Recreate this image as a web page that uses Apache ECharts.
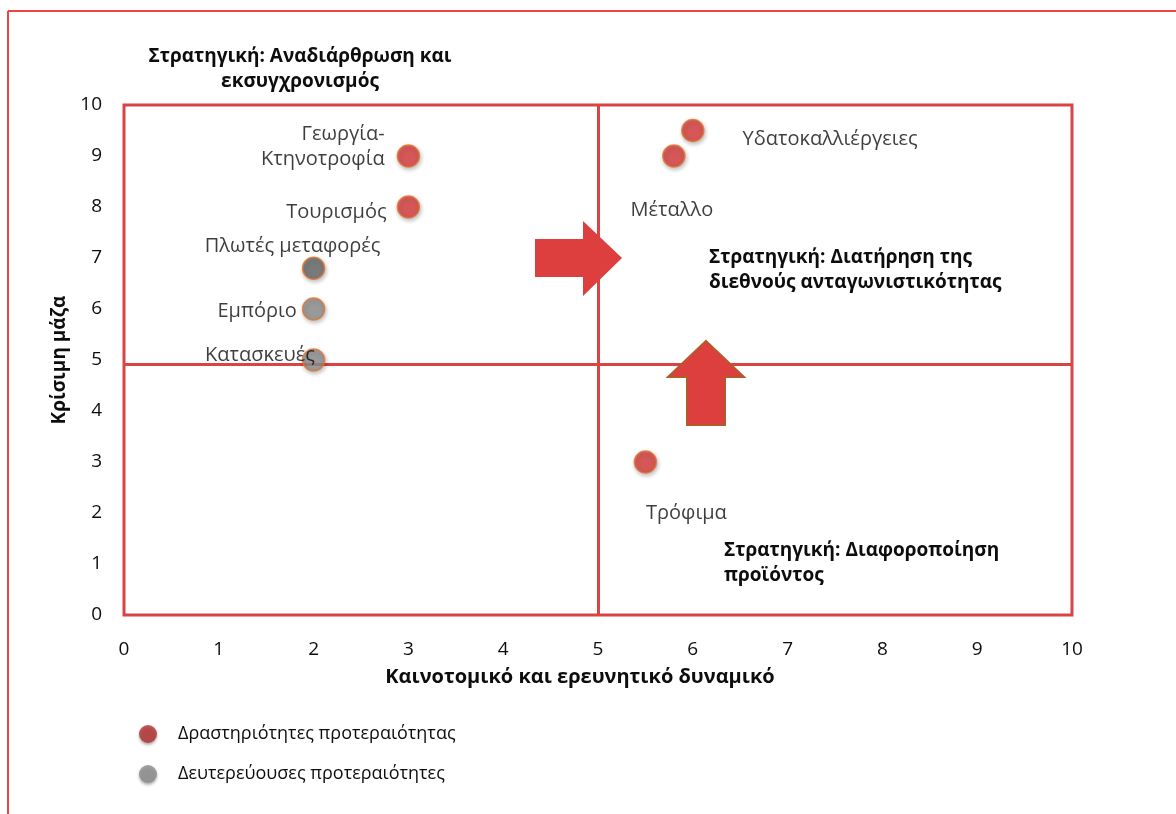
<!DOCTYPE html>
<html>
<head>
<meta charset="utf-8">
<script src="https://cdn.jsdelivr.net/npm/echarts@6/dist/echarts.min.js"></script>
<style>
  html, body { margin: 0; padding: 0; background: #fff; }
  #chart { width: 1176px; height: 814px; }
</style>
</head>
<body>
<div id="chart"></div>
<script>
// sectors, x = innovation potential, y = critical mass
var sectors = ['Γεωργία-\nΚτηνοτροφία', 'Τουρισμός', 'Υδατοκαλλιέργειες', 'Μέταλλο', 'Τρόφιμα',
               'Πλωτές μεταφορές', 'Εμπόριο', 'Κατασκευές'];
var innovation = [3, 3, 6, 5.8, 5.5, 2, 2, 2];
var criticalMass = [9, 8, 9.5, 9, 3, 6.8, 6, 5];
var isPriority = [true, true, true, true, true, false, false, false];
var xTicks = [0, 1, 2, 3, 4, 5, 6, 7, 8, 9, 10];
var yTicks = [0, 1, 2, 3, 4, 5, 6, 7, 8, 9, 10];
var quadrantX = 5;
var quadrantY = 4.92;
var seriesNames = ['Δραστηριότητες προτεραιότητας', 'Δευτερεύουσες προτεραιότητες'];

// where each label sits relative to its dot
var labelPlace = {
    'Γεωργία-\nΚτηνοτροφία': { position: 'left', offset: [-7, -9] },
    'Τουρισμός': { position: 'left', offset: [-5, 5] },
    'Υδατοκαλλιέργειες': { position: 'right', offset: [33, 9] },
    'Μέταλλο': { position: 'bottom', offset: [-2, 25] },
    'Τρόφιμα': { position: 'bottom', offset: [41, 22] },
    'Πλωτές μεταφορές': { position: 'top', offset: [-21, 7] },
    'Εμπόριο': { position: 'left', offset: [0, 2] },
    'Κατασκευές': { position: 'left', offset: [18, -5] }
};

var RED = '#d93c3c';
var GREY = '#8f8f8f';
var TXT = '#0d0d0d';
var FONT = '"Open Sans", "DejaVu Sans", sans-serif';

function buildPoints(wantPriority) {
    var out = [];
    for (var i = 0; i < sectors.length; i++) {
        if (isPriority[i] !== wantPriority) continue;
        var p = labelPlace[sectors[i]];
        var item = {
            name: sectors[i],
            value: [innovation[i], criticalMass[i]],
            label: { position: p.position, offset: p.offset }
        };
        if (sectors[i] === 'Πλωτές μεταφορές') {
            item.itemStyle = { color: '#676767' };
        }
        out.push(item);
    }
    return out;
}

var pointStyle = function (c) {
    return {
        color: c,
        borderColor: '#e2742e',
        borderWidth: 1.5,
        shadowColor: 'rgba(0,0,0,0.3)',
        shadowBlur: 4,
        shadowOffsetX: 1,
        shadowOffsetY: 2
    };
};

var pointLabel = {
    show: true,
    formatter: '{b}',
    fontFamily: FONT,
    fontSize: 20,
    fontWeight: 500,
    color: TXT,
    lineHeight: 25
};

var chart = echarts.init(document.getElementById('chart'));

var option = {
    animation: false,
    backgroundColor: '#fff',
    grid: {
        left: 124, right: 104, top: 105, bottom: 199,
        show: true,
        borderColor: '#d94545',
        borderWidth: 3,
        backgroundColor: 'transparent'
    },
    xAxis: {
        type: 'value',
        min: xTicks[0], max: xTicks[xTicks.length - 1], interval: 1,
        name: 'Καινοτομικό και ερευνητικό δυναμικό',
        nameLocation: 'middle',
        nameGap: 52,
        nameTextStyle: { fontFamily: FONT, fontSize: 20, fontWeight: 'bold', color: TXT, padding: [0, 36, 0, 0] },
        axisLine: { show: false },
        axisTick: { show: false },
        splitLine: { show: false },
        axisLabel: { fontFamily: FONT, fontSize: 19, fontWeight: 500, color: TXT, margin: 25 }
    },
    yAxis: {
        type: 'value',
        min: yTicks[0], max: yTicks[yTicks.length - 1], interval: 1,
        name: 'Κρίσιμη μάζα',
        nameLocation: 'middle',
        nameGap: 54,
        nameTextStyle: { fontFamily: FONT, fontSize: 19, fontWeight: 'bold', color: TXT },
        axisLine: { show: false },
        axisTick: { show: false },
        splitLine: { show: false },
        axisLabel: { fontFamily: FONT, fontSize: 19, fontWeight: 500, color: TXT, margin: 22 }
    },
    legend: {
        orient: 'vertical',
        left: 134,
        top: 720,
        itemWidth: 18,
        itemHeight: 18,
        itemGap: 22,
        icon: 'circle',
        textStyle: { fontFamily: FONT, fontSize: 18, color: TXT, padding: [0, 0, 0, 16] },
        data: [
            { name: seriesNames[0], itemStyle: { color: '#b3302e', shadowColor: 'rgba(0,0,0,0.4)', shadowBlur: 3, shadowOffsetY: 2, borderWidth: 0 } },
            { name: seriesNames[1], itemStyle: { color: '#8c8c8c', shadowColor: 'rgba(0,0,0,0.4)', shadowBlur: 3, shadowOffsetY: 2, borderWidth: 0 } }
        ]
    },
    series: [
        {
            name: seriesNames[0],
            type: 'scatter',
            symbolSize: 22,
            itemStyle: pointStyle(RED),
            label: pointLabel,
            data: buildPoints(true),
            z: 5,
            markLine: {
                silent: true,
                symbol: 'none',
                label: { show: false },
                lineStyle: { color: '#d94545', width: 3, type: 'solid' },
                data: [{ xAxis: quadrantX }, { yAxis: quadrantY }],
                z: 1
            }
        },
        {
            name: seriesNames[1],
            type: 'scatter',
            symbolSize: 22,
            itemStyle: pointStyle(GREY),
            label: pointLabel,
            data: buildPoints(false),
            z: 5
        }
    ],
    graphic: [
        // page frame edges
        { type: 'line', shape: { x1: 8, y1: 11, x2: 1176, y2: 11 }, style: { stroke: '#f04343', lineWidth: 2 }, silent: true },
        { type: 'line', shape: { x1: 8, y1: 11, x2: 8, y2: 814 }, style: { stroke: '#f04343', lineWidth: 2 }, silent: true },
        // arrows
        {
            type: 'polygon', z: 10,
            shape: { points: [[535, 239], [583, 239], [583, 221], [622, 258], [583, 296], [583, 277], [535, 277]] },
            style: { fill: '#dc3f3d' }
        },
        {
            type: 'polygon', z: 10,
            shape: { points: [[706, 341], [744, 377], [725, 377], [725, 425], [687, 425], [687, 377], [668, 377]] },
            style: { fill: '#dc3f3d', stroke: '#b35a2a', lineWidth: 2 }
        },
        // strategy notes
        {
            type: 'text', x: 300, y: 44, z: 10,
            style: { text: 'Στρατηγική: Αναδιάρθρωση και\nεκσυγχρονισμός', fontFamily: FONT, fontSize: 19, fontWeight: 'bold',
                     fill: TXT, align: 'center', verticalAlign: 'top', lineHeight: 25 }
        },
        {
            type: 'text', x: 709, y: 245, z: 10,
            style: { text: 'Στρατηγική: Διατήρηση της\nδιεθνούς ανταγωνιστικότητας', fontFamily: FONT, fontSize: 19, fontWeight: 'bold',
                     fill: TXT, verticalAlign: 'top', lineHeight: 25 }
        },
        {
            type: 'text', x: 724, y: 538, z: 10,
            style: { text: 'Στρατηγική: Διαφοροποίηση\nπροϊόντος', fontFamily: FONT, fontSize: 19, fontWeight: 'bold',
                     fill: TXT, verticalAlign: 'top', lineHeight: 25 }
        }
    ]
};

chart.setOption(option);
</script>
</body>
</html>
